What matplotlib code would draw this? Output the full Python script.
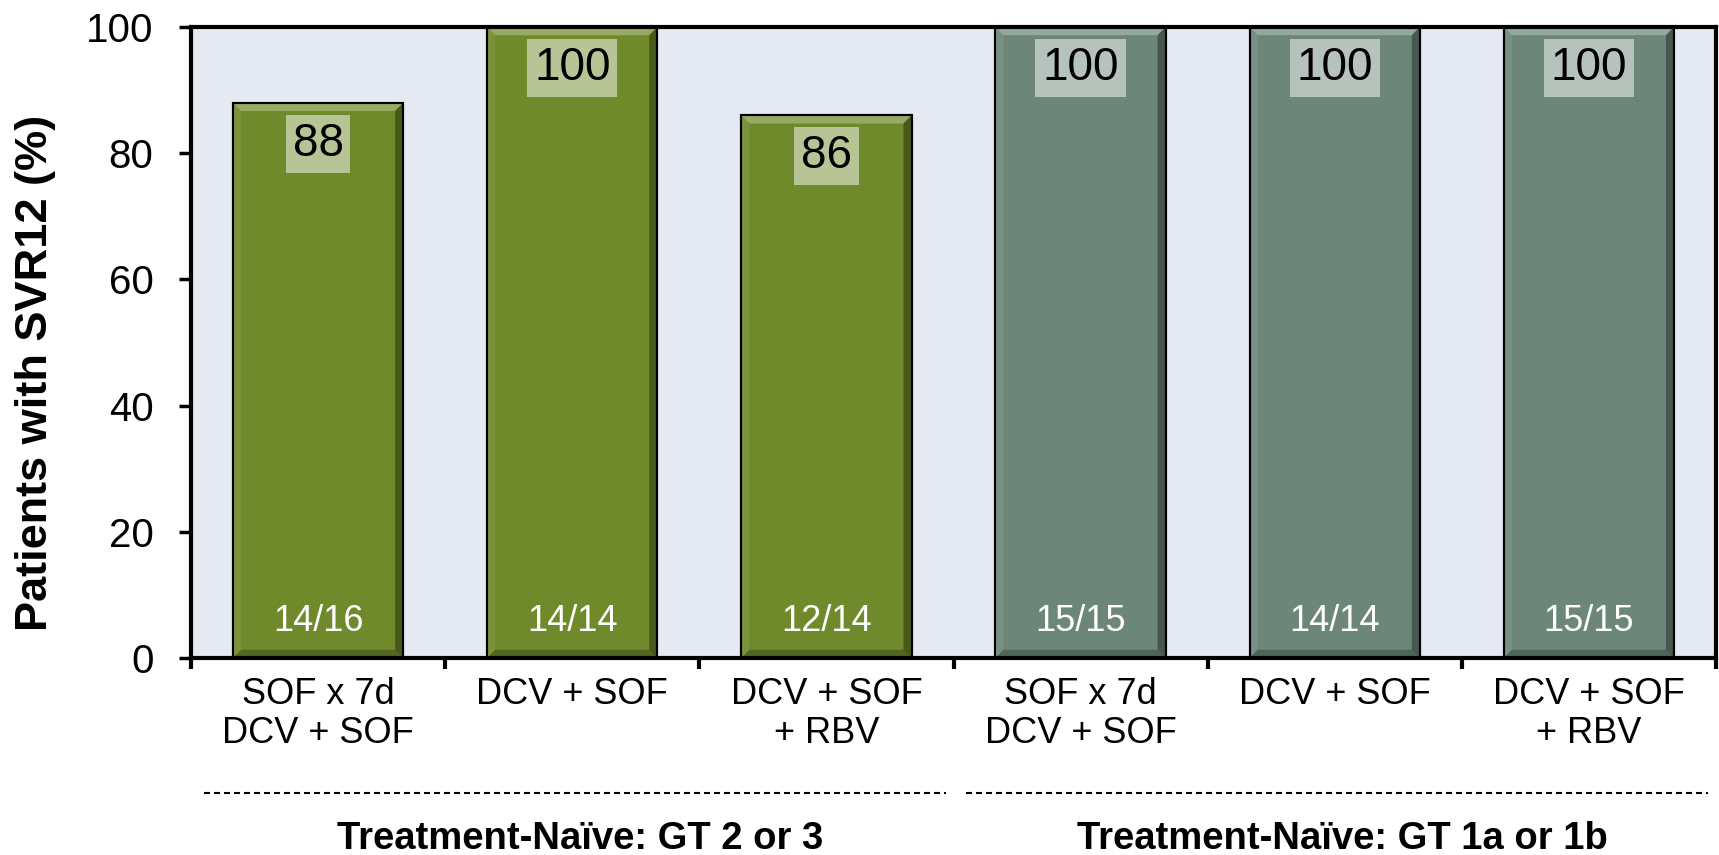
import numpy as np
import matplotlib
matplotlib.use('Agg')
import matplotlib.pyplot as plt
from matplotlib.patches import Polygon

plt.rcParams['font.family'] = ['Liberation Sans', 'DejaVu Sans']

# data
regimens = ['SOF x 7d\nDCV + SOF', 'DCV + SOF', 'DCV + SOF\n+ RBV',
            'SOF x 7d\nDCV + SOF', 'DCV + SOF', 'DCV + SOF\n+ RBV']
svr12 = [88, 100, 86, 100, 100, 100]
counts = ['14/16', '14/14', '12/14', '15/15', '14/14', '15/15']
groups = ['Treatment-Naïve: GT 2 or 3', 'Treatment-Naïve: GT 1a or 1b']
group_of_bar = [0, 0, 0, 1, 1, 1]

green = '#6F8A2B'
grey_green = '#6C8779'
group_colors = [green, grey_green]
bg = '#E5E9F2'


def main():
    fig = plt.figure(figsize=(17.19, 8.55), dpi=100)
    ax = fig.add_axes([191 / 1719, 1 - 658 / 855, 1525 / 1719, 631 / 855])
    ax.set_facecolor(bg)

    x = np.arange(len(svr12))
    colors = [group_colors[g] for g in group_of_bar]
    bars = ax.bar(x, svr12, width=0.67, color=colors, edgecolor='black',
                  linewidth=1.5, zorder=2)

    ax.set_xlim(-0.5, len(svr12) - 0.5)
    ax.set_ylim(0, 100)

    # bevel look on each bar
    dx, dy = 0.032, 1.3
    for b in bars:
        x0, y0 = b.get_x(), b.get_y()
        x1, y1 = x0 + b.get_width(), y0 + b.get_height()
        top = [(x0, y1), (x1, y1), (x1 - dx, y1 - dy), (x0 + dx, y1 - dy)]
        right = [(x1, y1), (x1, y0), (x1 - dx, y0 + dy), (x1 - dx, y1 - dy)]
        bottom = [(x0, y0), (x1, y0), (x1 - dx, y0 + dy), (x0 + dx, y0 + dy)]
        left = [(x0, y0), (x0, y1), (x0 + dx, y1 - dy), (x0 + dx, y0 + dy)]
        for pts, c, a in [(top, 'white', 0.28), (right, 'black', 0.35),
                          (bottom, 'black', 0.25), (left, 'white', 0.08)]:
            ax.add_patch(Polygon(pts, closed=True, facecolor=c, alpha=a,
                                 edgecolor='none', zorder=3))
        ax.add_patch(Polygon([(x0, y0), (x1, y0), (x1, y1), (x0, y1)],
                             closed=True, facecolor='none',
                             edgecolor='black', linewidth=1.5, zorder=4))

    # value labels and counts
    for xi, v, n in zip(x, svr12, counts):
        ax.text(xi, v - 6.5, str(v), ha='center', va='center', fontsize=33,
                color='black', zorder=5,
                bbox=dict(boxstyle='square,pad=0.15', facecolor='white',
                          alpha=0.5, edgecolor='none'))
        ax.text(xi, 4.3, n, ha='center', va='baseline', fontsize=26,
                color='white', zorder=5)

    # axes styling
    for s in ax.spines.values():
        s.set_linewidth(3)
        s.set_color('black')
        s.set_zorder(6)
    ax.set_yticks([0, 20, 40, 60, 80, 100])
    ax.tick_params(axis='y', labelsize=29, length=9, width=2.5, pad=18,
                   direction='out')
    ax.set_xticks(x)
    ax.set_xticklabels(regimens, fontsize=26, linespacing=1.15)
    ax.tick_params(axis='x', which='major', length=0, pad=14)
    ax.set_xticks(np.arange(-0.5, len(svr12)), minor=True)
    ax.tick_params(axis='x', which='minor', length=8, width=3,
                   direction='out')

    fig.text(36 / 1719, 1 - 373 / 855, 'Patients with SVR12 (%)',
             rotation=90, ha='center', va='center', fontsize=32.5,
             fontweight='bold')

    # group brackets
    trans = ax.get_xaxis_transform()
    for gi, name in enumerate(groups):
        idx = [i for i, g in enumerate(group_of_bar) if g == gi]
        lo, hi = min(idx) - 0.5, max(idx) + 0.5
        ax.plot([lo + 0.05, hi - 0.03], [-0.214, -0.214], transform=trans,
                color='black', linewidth=1.5, linestyle=(0, (2.9, 1.9)),
                clip_on=False)
        ax.text((lo + hi) / 2 + 0.03, -0.303, name, transform=trans,
                ha='center', va='baseline', fontsize=27.5, fontweight='bold')

    fig.savefig('out.png', dpi=100)


if __name__ == "__main__":
    main()
